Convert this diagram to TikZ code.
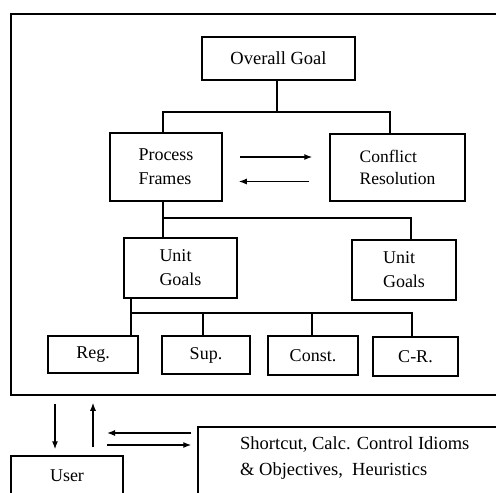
\documentclass[tikz,border=0pt]{standalone}
\usepackage{fontspec}
\setmainfont{Liberation Serif}
\usetikzlibrary{arrows.meta,calc}
\newcommand\lab{\fontsize{18}{24}\selectfont}
\newcommand\labs{\fontsize{17.5}{22}\selectfont}
\newcommand\labb{\fontsize{18.5}{26}\selectfont}
\tikzset{
  box/.style={draw, line width=1.5pt, inner sep=0pt, align=left, font=\lab},
  conn/.style={line width=1.5pt},
  arr/.style={line width=1.3pt, -{Latex[length=8pt,width=6pt]}},
}
\begin{document}
\begin{tikzpicture}[x=1pt,y=-1pt]
\useasboundingbox (0,0) rectangle (496,493);
\clip (0,0) rectangle (496,493);
% outer frame
\node[box, minimum width=509pt, minimum height=381pt] (frame) at (265.5,204.5) {};
% boxes
\node[box, minimum width=153pt, minimum height=43pt] (goal) at (278.5,58.5) {\labb Overall Goal};
\node[box, minimum width=112pt, minimum height=68pt] (pf) at (166,167) {Process\\Frames};
\node[box, minimum width=135pt, minimum height=67pt, font=\labs] (cr) at (397.5,167.5) {Conflict\\Resolution};
\node[box, minimum width=113pt, minimum height=60pt] (ug1) at (180.5,268) {Unit\\Goals};
\node[box, minimum width=104pt, minimum height=60pt] (ug2) at (404,270) {Unit\\Goals};
\node[box, minimum width=90pt, minimum height=37pt] (reg) at (93,354.5) {Reg.};
\node[box, minimum width=88pt, minimum height=38pt] (sup) at (206,355) {Sup.};
\node[box, minimum width=90pt, minimum height=39pt] (const) at (313,355.5) {Const.};
\node[box, minimum width=85pt, minimum height=39pt] (crb) at (415.5,356.5) {C-R.};
\node[box, minimum width=112pt, minimum height=40pt] (user) at (67,476) {User};
\node[box, minimum width=362pt, minimum height=113pt] (tb) at (379,483.5) {};
\node[font=\labb, anchor=base west, inner sep=0pt] (t1) at (240,449) {Shortcut, Calc. Control Idioms};
\node[font=\labb, anchor=base west, inner sep=0pt] (t2) at (240,475) {\& Objectives,\ \ Heuristics};
% bus 1
\coordinate (b1l) at (163,112);
\coordinate (b1r) at (390,112);
\coordinate (b1m) at (277,112);
\draw[conn] (b1m |- goal.south) -- (b1m);
\draw[conn] (b1l |- pf.north) -- (b1l) -- (b1r) -- (b1r |- cr.north);
% bus 2
\coordinate (b2l) at (163,218);
\coordinate (b2r) at (411,218);
\draw[conn] (b2l |- pf.south) -- (b2l |- ug1.north);
\draw[conn] (b2l) -- (b2r) -- (b2r |- ug2.north);
% bus 3
\coordinate (b3l) at (131,313);
\coordinate (b3s) at (203,313);
\coordinate (b3c) at (312,313);
\coordinate (b3r) at (412,313);
\draw[conn] (b3l |- ug1.south) -- (b3l |- reg.north);
\draw[conn] (b3l) -- (b3r) -- (b3r |- crb.north);
\draw[conn] (b3s) -- (b3s |- sup.north);
\draw[conn] (b3c) -- (b3c |- const.north);
% arrows between process frames and conflict resolution
\draw[arr, shorten <=17pt, shorten >=17pt] ([yshift=10pt]pf.east) -- ([yshift=10pt]pf.east -| cr.west);
\draw[arr, shorten <=20pt, shorten >=16pt] ([yshift=-14pt]cr.west -| cr.west) -- ([yshift=-14pt]cr.west -| pf.east);
% user arrows
\coordinate (d1) at (55,0);
\coordinate (d2) at (93,0);
\draw[arr, shorten <=8pt, shorten >=6pt] (frame.south -| d1) -- (user.north -| d1);
\draw[arr, shorten <=8pt, shorten >=7pt] (user.north -| d2) -- (frame.south -| d2);
\coordinate (h1) at (107,433);
\coordinate (h2) at (107,445);
\draw[arr, shorten <=6pt] (tb.west |- h1) -- (h1);
\draw[arr, shorten >=6pt] (h2) -- (tb.west |- h2);
\end{tikzpicture}
\end{document}
